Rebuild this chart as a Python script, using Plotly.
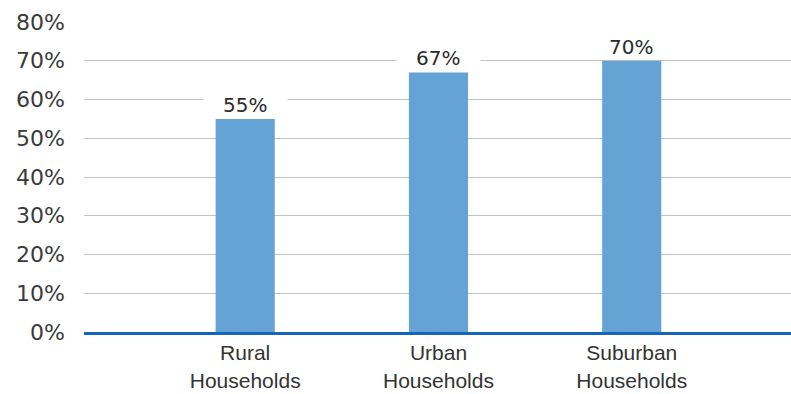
import plotly.graph_objects as go

categories = ["Rural<br>Households", "Urban<br>Households", "Suburban<br>Households"]
values = [55, 67, 70]
value_labels = ["55%", "67%", "70%"]
y_ticks = [0, 10, 20, 30, 40, 50, 60, 70, 80]
y_tick_labels = ["0%", "10%", "20%", "30%", "40%", "50%", "60%", "70%", "80%"]

fig = go.Figure()
fig.add_trace(go.Bar(
    x=categories, y=values, width=0.306,
    marker=dict(color="#65a3d4", line=dict(width=0)),
    hoverinfo="skip",
))

for c, v, t in zip(categories, values, value_labels):
    fig.add_annotation(
        x=c, y=v, xref="x", yref="y", text="&nbsp;&nbsp;&nbsp;" + t + "&nbsp;&nbsp;&nbsp;",
        showarrow=False, yanchor="bottom", yshift=1,
        font=dict(family="DejaVu Sans", size=20, color="#2b2b2b"),
        bgcolor="white", borderpad=0,
    )

fig.update_layout(
    width=791, height=394,
    margin=dict(l=84, r=0, t=22, b=62),
    paper_bgcolor="white", plot_bgcolor="white",
    showlegend=False,
    xaxis=dict(
        range=[-0.834, 2.824], showgrid=False, zeroline=False,
        showline=True, linecolor="#1565b8", linewidth=3,
        ticks="", ticklabelstandoff=0, automargin=False,
        tickfont=dict(family="Liberation Sans", size=21, color="#333333"),
    ),
    yaxis=dict(
        range=[0, 80], tickvals=y_ticks, ticktext=y_tick_labels,
        showgrid=True, gridcolor="#c4c4c4", gridwidth=1, automargin=False,
        zeroline=False, showline=False, ticks="", ticklabelstandoff=18,
        tickfont=dict(family="DejaVu Sans", size=22, color="#3a3a3a"),
    ),
)

fig.write_html("out.html")
